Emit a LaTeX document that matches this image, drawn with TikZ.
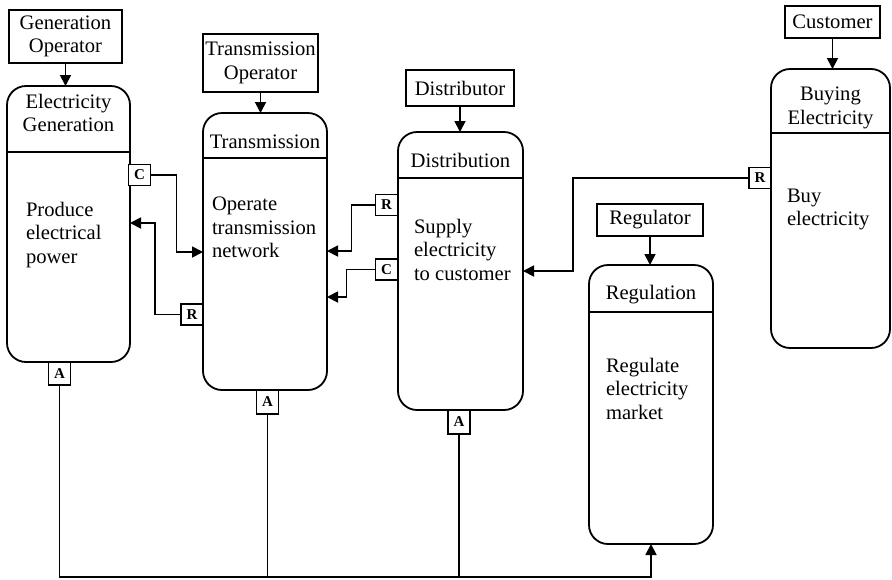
\documentclass[tikz,border=0pt]{standalone}
\usepackage{fontspec}
\setmainfont{Liberation Serif}
\usetikzlibrary{arrows.meta}
\begin{document}
\begin{tikzpicture}[x=1pt,y=-1pt,
  every node/.style={font=\fontsize{20.6}{23.5}\selectfont, inner sep=0pt, outer sep=0pt},
  procbox/.style={draw, line width=1.8pt, rounded corners=19pt},
  opbox/.style={draw, line width=1.8pt, align=center},
  portbox/.style={draw, line width=1.4pt, fill=white, minimum width=22pt, minimum height=21pt,
                  font=\fontsize{15}{15}\selectfont\bfseries},
  link/.style={line width=1.8pt},
  arr/.style={link, -{Triangle[length=11pt,width=11pt]}},
  txt/.style={align=left, anchor=north west},
  hdr/.style={align=center}
]
\useasboundingbox (0,0) rectangle (892,579);

% ---- Generation ----
\node[opbox, minimum width=113pt, minimum height=53pt] (genop) at (65.5,36.5) {Generation\\Operator};
\node[procbox, minimum width=123pt, minimum height=276pt] (gen) at (68.5,224) {};
\draw[link] (gen.west |- 0,152) -- (gen.east |- 0,152);
\node[hdr] (genhd) at (68.5,113) {Electricity\\Generation};
\node[txt] (gentx) at (26,202) {Produce\\electrical\\power};

% ---- Transmission ----
\node[opbox, minimum width=115pt, minimum height=58pt] (traop) at (260.5,63) {Transmission\\Operator};
\node[procbox, minimum width=124pt, minimum height=277pt] (tra) at (265,251.5) {};
\draw[link] (tra.west |- 0,158) -- (tra.east |- 0,158);
\node[hdr] (trahd) at (265,142) {Transmission};
\node[txt] (tratx) at (212,197) {Operate\\transmission\\network};

% ---- Distribution ----
\node[opbox, minimum width=108pt, minimum height=36pt] (disop) at (460,88) {Distributor};
\node[procbox, minimum width=125pt, minimum height=278pt] (dis) at (460.5,271) {};
\draw[link] (dis.west |- 0,178) -- (dis.east |- 0,178);
\node[hdr] (dishd) at (460.5,160) {Distribution};
\node[txt] (distx) at (414,219) {Supply\\electricity\\to customer};

% ---- Regulation ----
\node[opbox, minimum width=106pt, minimum height=32pt] (regop) at (650,220) {Regulator};
\node[procbox, minimum width=124pt, minimum height=279pt] (reg) at (651,404.5) {};
\draw[link] (reg.west |- 0,312) -- (reg.east |- 0,312);
\node[hdr] (reghd) at (651,295) {Regulation};
\node[txt] (regtx) at (606,358) {Regulate\\electricity\\market};

% ---- Buying ----
\node[opbox, minimum width=95pt, minimum height=32pt] (buyop) at (832.5,22) {Customer};
\node[procbox, minimum width=119pt, minimum height=279pt] (buy) at (830.5,208.5) {};
\draw[link] (buy.west |- 0,133) -- (buy.east |- 0,133);
\node[hdr] (buyhd) at (830.5,108) {Buying\\Electricity};
\node[txt] (buytx) at (787,189) {Buy\\electricity};

% ---- operator arrows ----
\draw[arr] (genop.south) -- (genop.south |- gen.north);
\draw[arr] (traop.south) -- (traop.south |- tra.north);
\draw[arr] (disop.south) -- (disop.south |- dis.north);
\draw[arr] (regop.south) -- (regop.south |- reg.north);
\draw[arr] (buyop.south) -- (buyop.south |- buy.north);

% ---- ports ----
\node[portbox] (gc) at (139.5,175) {C};
\node[portbox] (tr) at (192,314.5) {R};
\node[portbox] (dr) at (386.5,205) {R};
\node[portbox] (dc) at (386.5,269.5) {C};
\node[portbox] (br) at (760,178) {R};
\node[portbox, minimum height=23pt, anchor=north] (ga) at (gen.south -| 59.5,0) {A};
\node[portbox, minimum height=24pt, anchor=north] (ta) at (tra.south -| 267.5,0) {A};
\node[portbox, minimum height=24pt, anchor=north] (da) at (dis.south -| 459,0) {A};

% ---- exchanges between roles ----
\draw[arr] (gc.east) -- ++(26,0) |- (tra.west |- 0,252);
\draw[arr] (tr.west) -- ++(-26,0) |- (gen.east |- 0,223);
\draw[arr] (dr.west) -- ++(-24,0) |- (tra.east |- 0,251);
\draw[arr] (dc.west) -- ++(-29,0) |- (tra.east |- 0,297);
\draw[arr] (br.west) -- ++(-176,0) |- (dis.east |- 0,271);

% ---- accountability bus to regulation ----
\coordinate (bus) at (651,577);
\draw[arr] (ga.south) |- (bus) -- (reg.south);
\draw[link] (ta.south) -- (ta.south |- bus);
\draw[link] (da.south) -- (da.south |- bus);
\end{tikzpicture}
\end{document}
